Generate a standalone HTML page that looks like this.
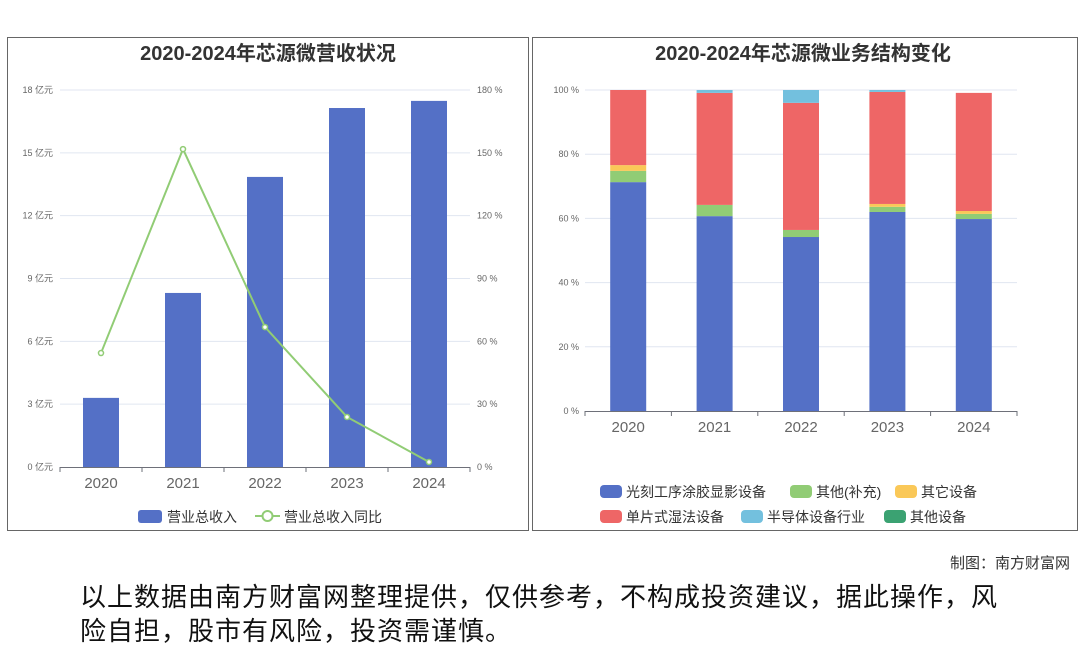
<!DOCTYPE html>
<html><head><meta charset="utf-8">
<style>
body{margin:0;width:1080px;height:646px;background:#fff;overflow:hidden;font-family:"Liberation Sans","Noto Sans CJK SC",sans-serif;}
svg{position:absolute;left:0;top:0}
.foot{position:absolute;right:10px;top:552px;font-size:15px;color:#333}
.disc{position:absolute;left:80px;top:580px;width:1000px;font-size:26px;line-height:34px;color:#111;letter-spacing:1px}
</style></head><body>
<svg id="c" width="1080" height="646"></svg>
<div class="foot">制图：南方财富网</div>
<div class="disc">以上数据由南方财富网整理提供，仅供参考，不构成投资建议，据此操作，风<br>险自担，股市有风险，投资需谨慎。</div>
<script>
const years=["2020","2021","2022","2023","2024"];
const revenue=[3.3,8.31,13.85,17.14,17.48];
const growth=[54.4,151.8,66.8,23.9,2.4];
const leftTicks=[0,3,6,9,12,15,18];
const rightTicks=[0,30,60,90,120,150,180];
const segNames=["光刻工序涂胶显影设备","其他(补充)","其它设备","单片式湿法设备","半导体设备行业","其他设备"];
const segColors=["#5470c6","#91cc75","#fac858","#ee6666","#73c0de","#3ba272"];
const segLitho=[71.3,60.7,54.2,62,59.8];
const segOtherSupp=[3.5,3.5,2.2,1.6,1.6];
const segOtherEquip=[1.8,0,0,0.9,0.9];
const segWet=[23.4,34.9,39.6,34.9,36.8];
const segIndustry=[0,0.9,4,0.6,0];
const segOther=[0,0,0,0,0];
const pctTicks=[0,20,40,60,80,100];

const svg=document.getElementById('c');const NS='http://www.w3.org/2000/svg';
function el(t,a,txt){const e=document.createElementNS(NS,t);for(const k in a)e.setAttribute(k,a[k]);if(txt!=null)e.textContent=txt;svg.appendChild(e);return e;}

let p=el('rect',{x:7.5,y:37.5,width:521,height:493,fill:'none',stroke:'#666'});


p=el('rect',{x:532.5,y:37.5,width:545,height:493,fill:'none',stroke:'#666'});



const L={x0:60,x1:470,y0:467,y1:90};
const ly=v=>L.y0-(v/18)*(L.y0-L.y1);
const ry=v=>L.y0-(v/180)*(L.y0-L.y1);
const lband=(L.x1-L.x0)/years.length;
const lx=i=>L.x0+lband*(i+0.5);
let t=el('text',{x:268,y:60,'text-anchor':'middle','font-size':20,'font-weight':'bold',fill:'#333'},'2020-2024年芯源微营收状况');


leftTicks.forEach((v,i)=>{
  const y=ly(v);
  if(v>0){const g=el('line',{x1:L.x0,x2:L.x1,y1:y,y2:y,stroke:'#e0e6f1'});}
  const a=el('text',{x:53,y:y+3,'text-anchor':'end','font-size':9,fill:'#666'},v+' 亿元');
  
  
  const b=el('text',{x:477,y:ry(rightTicks[i])+3,'font-size':9,fill:'#666'},rightTicks[i]+' %');
  
  
});
el('line',{x1:L.x0,x2:L.x1,y1:L.y0+0.5,y2:L.y0+0.5,stroke:'#6e7079'});
for(let i=0;i<=years.length;i++)el('line',{x1:L.x0+lband*i,x2:L.x0+lband*i,y1:L.y0,y2:L.y0+5,stroke:'#6e7079'});
years.forEach((yr,i)=>{
  const b=el('rect',{x:lx(i)-18,y:ly(revenue[i]),width:36,height:L.y0-ly(revenue[i]),fill:'#5470c6'});
  
  
  const tx=el('text',{x:lx(i),y:488,'text-anchor':'middle','font-size':15,fill:'#666'},yr);
  
  
});
const pl=el('polyline',{points:growth.map((v,i)=>lx(i)+','+ry(v)).join(' '),fill:'none',stroke:'#91cc75','stroke-width':2});


growth.forEach((v,i)=>{const c=el('circle',{cx:lx(i),cy:ry(v),r:2.5,fill:'#fff',stroke:'#91cc75','stroke-width':1.5});});
let lg=el('rect',{x:138,y:510,width:24,height:13,rx:3,fill:'#5470c6'});


t=el('text',{x:167,y:522,'font-size':14,fill:'#333'},'营业总收入');


el('line',{x1:255,x2:280,y1:516,y2:516,stroke:'#91cc75','stroke-width':2});
el('circle',{cx:267.5,cy:516,r:5,fill:'#fff',stroke:'#91cc75','stroke-width':2});
t=el('text',{x:284,y:522,'font-size':14,fill:'#333'},'营业总收入同比');



const R={x0:585,x1:1017,y0:411,y1:90};
const py=v=>R.y0-(v/100)*(R.y0-R.y1);
const rband=(R.x1-R.x0)/years.length;
const rx=i=>R.x0+rband*(i+0.5);
t=el('text',{x:803,y:60,'text-anchor':'middle','font-size':20,'font-weight':'bold',fill:'#333'},'2020-2024年芯源微业务结构变化');


pctTicks.forEach(v=>{
  const y=py(v);
  if(v>0)el('line',{x1:R.x0,x2:R.x1,y1:y,y2:y,stroke:'#e0e6f1'});
  const a=el('text',{x:579,y:y+3,'text-anchor':'end','font-size':9,fill:'#666'},v+' %');
  
  
});
el('line',{x1:R.x0,x2:R.x1,y1:R.y0+0.5,y2:R.y0+0.5,stroke:'#6e7079'});
for(let i=0;i<=years.length;i++)el('line',{x1:R.x0+rband*i,x2:R.x0+rband*i,y1:R.y0,y2:R.y0+5,stroke:'#6e7079'});
const series=[segLitho,segOtherSupp,segOtherEquip,segWet,segIndustry,segOther];
years.forEach((yr,i)=>{
  let acc=0;
  series.forEach((s,k)=>{
    const v=s[i];if(v<=0)return;
    const r=el('rect',{x:rx(i)-18,y:py(acc+v),width:36,height:py(acc)-py(acc+v),fill:segColors[k]});
    
    
    acc+=v;
  });
  const tx=el('text',{x:rx(i),y:432,'text-anchor':'middle','font-size':15,fill:'#666'},yr);
  
  
});
const legPos=[[600,491],[790,491],[895,491],[600,516],[741,516],[884,516]];
segNames.forEach((n,k)=>{
  const [x,y]=legPos[k];
  const s=el('rect',{x:x,y:y-6,width:22,height:13,rx:4,fill:segColors[k]});
  
  
  const tx=el('text',{x:x+26,y:y+6,'font-size':14,fill:'#333'},n);
  
  
});
</script>
</body></html>
